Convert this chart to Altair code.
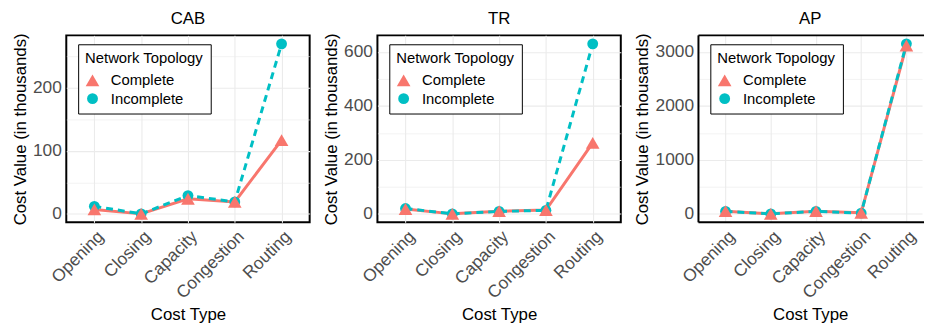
import altair as alt
import pandas as pd

categories = ["Opening", "Closing", "Capacity", "Congestion", "Routing"]
topologies = ["Complete", "Incomplete"]
colors = ["#F8766D", "#00BFC4"]

cab_complete = [7, 0, 24, 19, 117]
cab_incomplete = [12, 0, 29, 19, 270]
tr_complete = [18, 0, 10, 14, 263]
tr_incomplete = [20, 0, 9, 13, 630]
ap_complete = [50, 0, 50, 20, 3120]
ap_incomplete = [45, 0, 45, 15, 3150]

FONT = "Liberation Sans"
H = 189


def panel(name, comp, incomp, major, minor, width, yext, xpad=0.6, xalign=0.5, open_right=False):
    rows = []
    for c, v in zip(categories, comp):
        rows.append({"Cost Type": c, "Value": v, "Topology": "Complete", "draw": 1})
    for c, v in zip(categories, incomp):
        rows.append({"Cost Type": c, "Value": v, "Topology": "Incomplete", "draw": 0})
    df = pd.DataFrame(rows)
    vmax = max(max(comp), max(incomp))
    vmin = min(min(comp), min(incomp))
    span = vmax - vmin
    domain = [vmin - 0.05 * span, vmax + 0.05 * span]
    ticks = list(range(0, int(vmax) + 1, minor))

    x = alt.X(
        "Cost Type:N",
        sort=categories,
        scale=alt.Scale(type="point", padding=xpad, align=xalign),
        axis=alt.Axis(
            title="Cost Type",
            labelAngle=-45,
            labelAlign="right",
            labelBaseline="top",
            labelPadding=5,
            ticks=False,
            domain=False,
            grid=True,
            gridColor="#EBEBEB",
            gridWidth=1.1,
            minExtent=80,
            maxExtent=80,
            titlePadding=5,
        ),
    )
    y = alt.Y(
        "Value:Q",
        scale=alt.Scale(domain=domain, nice=False, zero=False),
        axis=alt.Axis(
            title="Cost Value (in thousands)",
            values=ticks,
            labelExpr=f"datum.value % {major} === 0 ? datum.label : ''",
            labelOverlap=False,
            format="d",
            ticks=False,
            domain=False,
            grid=True,
            gridColor="#EBEBEB",
            gridWidth={
                "condition": {"test": f"datum.value % {major} === 0", "value": 1.1},
                "value": 0.6,
            },
            labelPadding=5,
            minExtent=yext,
            maxExtent=yext,
            titlePadding=3,
        ),
    )
    base = alt.Chart(df).encode(x=x, y=y)
    line_c = base.transform_filter(alt.datum.Topology == "Complete").mark_line(
        color=colors[0], strokeWidth=3
    )
    line_i = base.transform_filter(alt.datum.Topology == "Incomplete").mark_line(
        color=colors[1], strokeWidth=3, strokeDash=[7, 5]
    )
    leg = alt.Legend(
        title="Network Topology",
        orient="none",
        legendX=12,
        legendY=9,
        fillColor="white",
        strokeColor="black",
        padding=7,
        titleFont=FONT,
        titleFontSize=15,
        titleFontWeight="normal",
        titleColor="black",
        titlePadding=7,
        labelFont=FONT,
        labelFontSize=15,
        labelColor="black",
        labelOffset=11,
        rowPadding=2.5,
        symbolSize=170,
        symbolOpacity=1,
        symbolStrokeWidth=0,
    )
    points = base.mark_point(filled=True, opacity=1).encode(
        color=alt.Color(
            "Topology:N", scale=alt.Scale(domain=topologies, range=colors), legend=leg
        ),
        shape=alt.Shape(
            "Topology:N",
            scale=alt.Scale(domain=topologies, range=["triangle-up", "circle"]),
            legend=leg,
        ),
        size=alt.Size(
            "Topology:N",
            scale=alt.Scale(domain=topologies, range=[190, 120]),
            legend=None,
        ),
        order=alt.Order("draw:Q"),
    )
    layers = [line_c, line_i, points]
    props = dict(
        width=width,
        height=H,
        title=alt.TitleParams(
            name, fontSize=17, fontWeight="normal", color="black", anchor="middle", offset=4.5
        ),
    )
    if open_right:
        one = alt.Chart(pd.DataFrame({"k": [0]}))
        border = [
            one.mark_rule(color="black", strokeWidth=2).encode(
                x=alt.value(0), x2=alt.value(width + 2), y=alt.value(0)
            ),
            one.mark_rule(color="black", strokeWidth=2).encode(
                x=alt.value(0), x2=alt.value(width + 2), y=alt.value(H)
            ),
            one.mark_rule(color="black", strokeWidth=2).encode(
                x=alt.value(0), y=alt.value(0), y2=alt.value(H)
            ),
        ]
        layers = layers + border
        props["view"] = alt.ViewBackground(stroke="transparent")
    return alt.layer(*layers).properties(**props)


p1 = panel("CAB", cab_complete, cab_incomplete, 100, 50, 246, 34)
p2 = panel("TR", tr_complete, tr_incomplete, 200, 100, 246, 34)
p3 = panel("AP", ap_complete, ap_incomplete, 1000, 500, 226, 44,
           xpad=0.4727, xalign=0.634, open_right=True)

chart = (
    alt.hconcat(p1, p2, p3, spacing=11.5)
    .resolve_scale(color="independent", shape="independent", size="independent", y="independent", x="independent")
    .resolve_legend(color="independent", shape="independent")
    .properties(padding={"left": 11, "top": 7, "right": 0, "bottom": 0}, background="white")
    .configure(font=FONT)
    .configure_view(stroke="black", strokeWidth=2)
    .configure_axis(
        labelFontSize=17.5,
        labelColor="#4D4D4D",
        titleFontSize=17,
        titleFontWeight="normal",
        titleColor="black",
        labelFont=FONT,
        titleFont=FONT,
    )
)

chart.save("out.html", embed_options={"renderer": "svg", "actions": False})
